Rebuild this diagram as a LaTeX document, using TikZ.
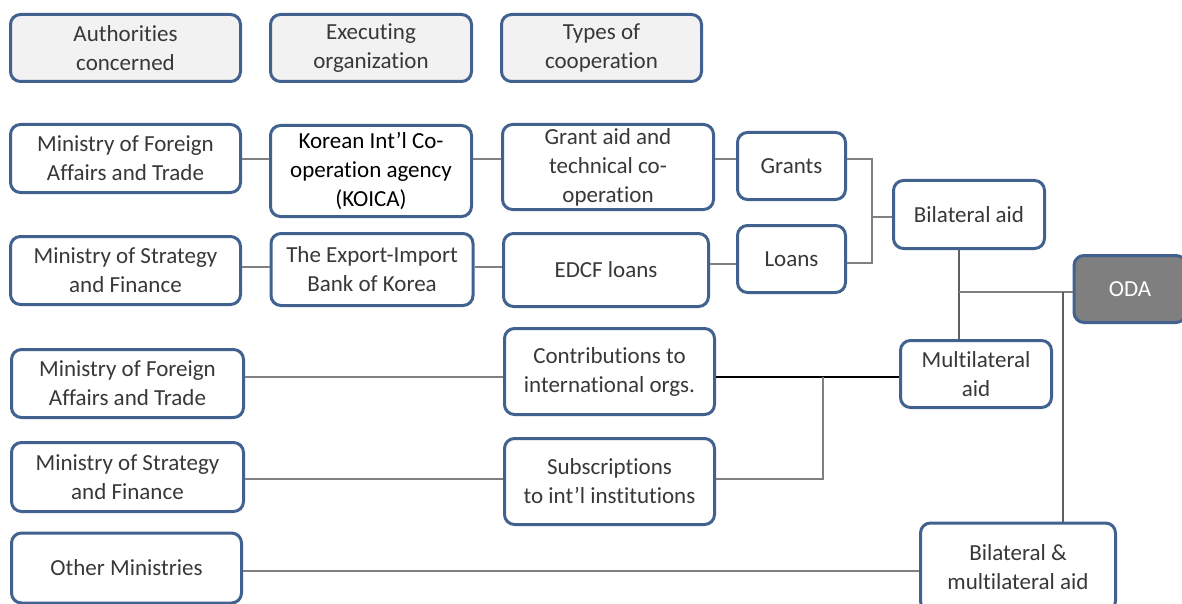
\documentclass[tikz,border=0pt]{standalone}
\usepackage{fontspec}
\setmainfont{Carlito}[Ligatures=NoCommon]
\usepackage{xcolor}
\usetikzlibrary{calc}
\definecolor{odaBlue}{HTML}{41628F}
\definecolor{odaText}{HTML}{383838}
\definecolor{odaHead}{HTML}{F2F2F2}
\definecolor{odaLine}{HTML}{808080}
\definecolor{odaDark}{HTML}{606060}
\definecolor{odaFill}{HTML}{7F7F7F}

\begin{document}
\begin{tikzpicture}[x=1pt, y=-1pt,
      box/.style={draw=odaBlue, line width=3pt, rounded corners=10pt,
                  fill=white, align=center, inner sep=0pt,
                  text=odaText, font=\fontsize{23}{29}\selectfont},
      headbox/.style={box, fill=odaHead},
      odabox/.style={box, fill=odaFill, text=white},
      link/.style={draw=odaLine, line width=1.5pt},
      trunk/.style={draw=odaDark, line width=2pt}]
    \useasboundingbox (0,0) rectangle (1182,604);
    % headers
    \node[headbox, minimum width=230, minimum height=67] (hauth) at (125.5,48) {Authorities\\concerned};
    \node[headbox, minimum width=201, minimum height=67] (hexec) at (371,48) {Executing\\organization};
    \node[headbox, minimum width=200, minimum height=67] (htype) at (601.5,48) {Types of\\cooperation};
    % bilateral branch
    \node[box, minimum width=230, minimum height=68] (mofa1) at (125.5,158.5) {Ministry of Foreign\\Affairs and Trade};
    \node[box, minimum width=201, minimum height=91, text=black] (koica) at (371,171) {Korean Int’l Co-\\operation agency\\(KOICA)};
    \node[box, minimum width=211, minimum height=85] (grant) at (608,167) {Grant aid and\\technical co-\\operation};
    \node[box, minimum width=108, minimum height=67] (grants) at (791.5,166) {Grants};
    \node[box, minimum width=230, minimum height=68] (mosf1) at (125.5,270.5) {Ministry of Strategy\\and Finance};
    \node[box, minimum width=202, minimum height=72] (exim) at (372,269.5) {The Export-Import\\Bank of Korea};
    \node[box, minimum width=205, minimum height=73] (edcf) at (606,270) {EDCF loans};
    \node[box, minimum width=108, minimum height=67] (loans) at (791.5,259) {Loans};
    \node[box, minimum width=151, minimum height=68] (bilat) at (969,214.5) {Bilateral aid};
    \node[odabox, minimum width=112, minimum height=67] (oda) at (1130,289) {ODA};
    % multilateral branch
    \node[box, minimum width=151, minimum height=67] (multi) at (976,374) {Multilateral\\aid};
    \node[box, minimum width=232, minimum height=68] (mofa2) at (127.5,383.5) {Ministry of Foreign\\Affairs and Trade};
    \node[box, minimum width=210, minimum height=86] (contrib) at (609.5,371.5) {Contributions to\\international orgs.};
    \node[box, minimum width=232, minimum height=69] (mosf2) at (127.5,477) {Ministry of Strategy\\and Finance};
    \node[box, minimum width=210, minimum height=86] (subs) at (609.5,481.5) {Subscriptions\\to int’l institutions};
    \node[box, minimum width=230, minimum height=70] (other) at (126.5,568) {Other Ministries};
    \node[box, minimum width=195, minimum height=88] (bimulti) at (1018,567) {Bilateral \&\\multilateral aid};
    % connector rows and joints
    \coordinate (r1) at (0,159);
    \coordinate (r2) at (0,267);
    \coordinate (r3) at (0,377);
    \coordinate (r4) at (0,479);
    \coordinate (r5) at (0,571);
    \coordinate (jbl) at (872,217);
    \coordinate (jml) at (823,377);
    \coordinate (joda) at (959,292);
    \coordinate (jall) at (1063,292);
    \draw[link] (mofa1.east |- r1) -- (koica.west |- r1);
    \draw[link] (koica.east |- r1) -- (grant.west |- r1);
    \draw[link] (grant.east |- r1) -- (grants.west |- r1);
    \draw[link] (mosf1.east |- r2) -- (exim.west |- r2);
    \draw[link] (exim.east |- r2) -- (edcf.west |- r2);
    \draw[link] (edcf.east |- 0,264) -- (loans.west |- 0,264);
    \draw[link] (grants.east |- r1) -| (jbl) |- (loans.east |- 0,263);
    \draw[link] (jbl) -- (bilat.west |- jbl);
    \draw[trunk] (joda |- bilat.south) -- (joda |- multi.north);
    \draw[link] (joda) -- (oda.west |- joda);
    \draw[trunk] (jall) -- (jall |- bimulti.north);
    \draw[link] (mofa2.east |- r3) -- (contrib.west |- r3);
    \draw[draw=black, line width=1.5pt] (contrib.east |- r3) -- (multi.west |- r3);
    \draw[link] (mosf2.east |- r4) -- (subs.west |- r4);
    \draw[link] (subs.east |- r4) -| (jml);
    \draw[link] (other.east |- r5) -- (bimulti.west |- r5);
  \end{tikzpicture}
\end{document}
